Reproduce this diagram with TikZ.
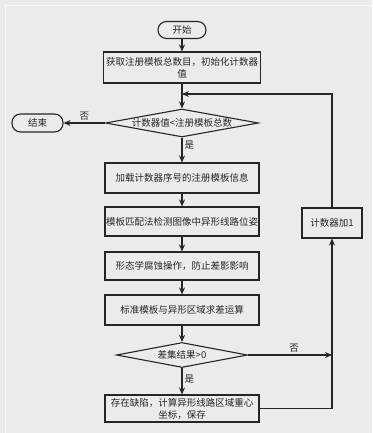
\documentclass[tikz,border=0pt]{standalone}
\usepackage{fontspec}
\newfontfamily\cjk{Noto Sans CJK SC}
\usetikzlibrary{shapes.geometric,arrows.meta}
\begin{document}
\begin{tikzpicture}[x=1pt,y=-1pt,
  every node/.style={font=\cjk\fontsize{9.5}{12}\selectfont, text=black!85},
  box/.style={draw=black!85, line width=1.1pt, rectangle, inner sep=0pt, align=center},
  term/.style={draw=black!85, line width=1.1pt, rectangle, rounded corners=8.5pt, inner sep=0pt},
  dia/.style={draw=black!85, line width=1.1pt, diamond, inner sep=0pt},
  arr/.style={draw=black!85, line width=1.1pt, -{Stealth[length=7pt,width=6pt]}},
  lin/.style={draw=black!85, line width=1.1pt},
  lbl/.style={inner sep=2pt}]
\fill[black!8] (0,0) rectangle (372,433);
\useasboundingbox (0,0) rectangle (372,433);
\draw[white!70!black!8, line width=0.8pt] (5,433) -- (5,5) -- (372,5);

\node[term, minimum width=48pt, minimum height=17pt] (start) at (182,30) {开始};
\node[box, minimum width=157pt, minimum height=31pt] (b1) at (182,67.5) {获取注册模板总数目，初始化计数器\\值};
\node[dia, minimum width=153pt, minimum height=28pt] (d1) at (182,123) {};
\node (d1t) at (d1.center) {计数器值<注册模板总数};
\node[term, minimum width=51pt, minimum height=18pt] (end) at (37.5,123) {结束};
\node[box, minimum width=154pt, minimum height=30pt] (b2) at (182,178) {加载计数器序号的注册模板信息};
\node[box, minimum width=154pt, minimum height=29pt] (b3) at (182,221.5) {模板匹配法检测图像中异形线路位姿};
\node[box, minimum width=154pt, minimum height=28pt] (b4) at (182,266) {形态学腐蚀操作，防止差影影响};
\node[box, minimum width=154pt, minimum height=30pt] (b5) at (182,310) {标准模板与异形区域求差运算};
\node[dia, minimum width=131pt, minimum height=25pt] (d2) at (182,355) {};
\node (d2t) at (d2.center) {差集结果>0};
\node[box, minimum width=154pt, minimum height=27pt] (b6) at (182,408.5) {存在缺陷，计算异形线路区域重心\\坐标，保存};
\node[box, minimum width=60pt, minimum height=30pt] (inc) at (332,223) {计数器加1};

\coordinate (rjoin) at (332,355);
\coordinate (rb) at (332,408.5);
\coordinate (top) at (332,94);
\coordinate (tj) at (182,94);

\draw[arr] (start) -- (b1);
\draw[arr] (b1) -- (d1);
\draw[arr] (d1.west) -- node[lbl, above] {否} (end.east);
\draw[arr] (d1.south) -- node[lbl, right, pos=0.3] {是} (b2.north);
\draw[arr] (b2) -- (b3);
\draw[arr] (b3) -- (b4);
\draw[arr] (b4) -- (b5);
\draw[arr] (b5) -- (d2);
\draw[arr] (d2.east) -- node[lbl, above, pos=0.55] {否} (rjoin);
\draw[arr] (d2.south) -- node[lbl, right, pos=0.4] {是} (b6.north);
\draw[arr] (b6.east) -- (rb) -- (inc.south);
\draw[arr] (inc.north) -- (top) -- (tj);
\end{tikzpicture}
\end{document}
